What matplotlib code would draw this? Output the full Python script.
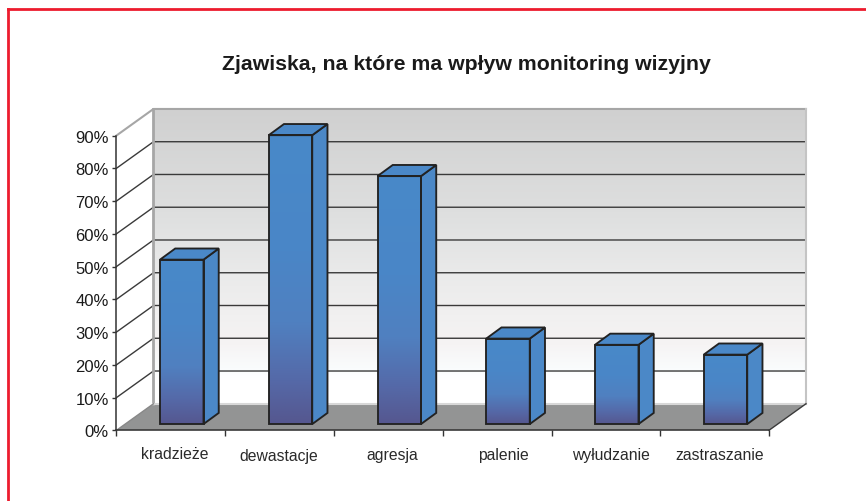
import matplotlib

matplotlib.use("Agg")
import matplotlib.pyplot as plt
import numpy as np
from matplotlib.colors import LinearSegmentedColormap
from matplotlib.patches import Polygon
from matplotlib.transforms import ScaledTranslation

plt.rcParams["font.family"] = ["Liberation Sans", "DejaVu Sans"]

# data
categories = ["kradzieże", "dewastacje", "agresja", "palenie", "wyłudzanie", "zastraszanie"]
values = [50.2, 88.2, 75.7, 26.1, 24.2, 21.2]
y_ticks = [0, 10, 20, 30, 40, 50, 60, 70, 80, 90]
title = "Zjawiska, na które ma wpływ monitoring wizyjny"

# fake 3d geometry, in axis units (one category = 1, y in percent)
DEPTH_X, DEPTH_Y = 0.34, 8.1
BAR_SHIFT_X, BAR_SHIFT_Y = 0.1, 1.9
BAR_W = 0.4
BAR_DX, BAR_DY = 0.14, 3.4
EDGE = "#222222"
label_nudge = [4, -1, 4, 6, 5, 5]
label_drop = [0, 2, 1, 1, 1, 1]

wall_cmap = LinearSegmentedColormap.from_list(
    "wall",
    [(0, "#d0d0d0"), (0.35, "#dedfdf"), (0.6, "#ececec"), (0.8, "#f6f4f4"), (0.88, "#fafcfd"), (0.92, "#ffffff"), (1, "#ffffff")],
)
bar_cmap = LinearSegmentedColormap.from_list(
    "bar", [(0, "#4889c9"), (0.4, "#4a86c7"), (0.65, "#5080c0"), (0.85, "#5569a8"), (1, "#55578f")]
)
ramp = np.linspace(0, 1, 256).reshape(-1, 1)

fig = plt.figure(figsize=(8.66, 5.02), dpi=100)
ax = fig.add_axes([116.5 / 866, 1 - 431.3 / 502, 652.5 / 866, 294.8 / 502])
ax.patch.set_visible(False)

# back wall and floor
ax.imshow(ramp, cmap=wall_cmap, aspect="auto", zorder=0, clip_on=False,
          extent=(DEPTH_X, 6 + DEPTH_X, DEPTH_Y, 90 + DEPTH_Y))
ax.add_patch(Polygon([(0, 0), (6, 0), (6 + DEPTH_X, DEPTH_Y), (DEPTH_X, DEPTH_Y)],
                     fc="#939494", ec="none", zorder=1, clip_on=False))

# grid lines, side wall then back wall
for t in y_ticks[1:-1]:
    ax.plot([0, DEPTH_X, 6 + DEPTH_X], [t, t + DEPTH_Y, t + DEPTH_Y], color="#3a3a3a", lw=1.0,
            zorder=1.5, clip_on=False, solid_joinstyle="miter")
ax.plot([0, DEPTH_X, 6 + DEPTH_X], [90, 90 + DEPTH_Y, 90 + DEPTH_Y], color="#a6a6a6", lw=1.5,
        zorder=1.6, clip_on=False)
ax.plot([DEPTH_X, DEPTH_X], [DEPTH_Y, 90 + DEPTH_Y], color="#a6a6a6", lw=2.0, zorder=1.6, clip_on=False)
ax.plot([DEPTH_X, 6 + DEPTH_X], [DEPTH_Y, DEPTH_Y], color="#d8d8d8", lw=1.5, zorder=1.6, clip_on=False)
ax.plot([6 + DEPTH_X, 6 + DEPTH_X], [DEPTH_Y, 90 + DEPTH_Y], color="#c4c4c4", lw=1.5, zorder=1.6, clip_on=False)
ax.plot([0, DEPTH_X], [0, DEPTH_Y], color="#888888", lw=1.0, zorder=1.6, clip_on=False)
ax.plot([6, 6 + DEPTH_X], [0, DEPTH_Y], color="#3a3a3a", lw=1.0, zorder=1.6, clip_on=False)

# bars
for i, v in enumerate(values):
    x0 = i + 0.5 - BAR_W / 2 + BAR_SHIFT_X
    x1 = x0 + BAR_W
    y0 = BAR_SHIFT_Y
    y1 = v + BAR_SHIFT_Y
    ax.imshow(ramp, cmap=bar_cmap, aspect="auto", zorder=3, clip_on=False, extent=(x0, x1, y0, y1))
    ax.add_patch(Polygon([(x0, y0), (x1, y0), (x1, y1), (x0, y1)], fc="none", ec=EDGE, lw=1.35,
                         zorder=3.2, clip_on=False))
    ax.add_patch(Polygon([(x1, y0), (x1 + BAR_DX, y0 + BAR_DY), (x1 + BAR_DX, y1 + BAR_DY), (x1, y1)],
                         fc="#4b88c7", ec=EDGE, lw=1.35, zorder=3.1, clip_on=False))
    ax.add_patch(Polygon([(x0, y1), (x1, y1), (x1 + BAR_DX, y1 + BAR_DY), (x0 + BAR_DX, y1 + BAR_DY)],
                         fc="#4a88c8", ec=EDGE, lw=1.35, zorder=3.1, clip_on=False))

ax.set_xlim(0, 6)
ax.set_ylim(0, 90)
for side in ("top", "right"):
    ax.spines[side].set_visible(False)
for side in ("left", "bottom"):
    ax.spines[side].set_color("#333333")
    ax.spines[side].set_linewidth(1.1)

ax.set_yticks(y_ticks, [f"{t}%" for t in y_ticks])
ax.tick_params(axis="y", length=3, width=1.0, color="#333333", labelsize=12, labelcolor="#1a1a1a", pad=2.5)
ax.set_xticks(range(7), [""] * 7)
ax.tick_params(axis="x", which="major", length=4, width=1.0, color="#333333")
ax.set_xticks(np.arange(6) + 0.5, categories, minor=True)
ax.tick_params(axis="x", which="minor", length=0, labelsize=11.3, labelcolor="#2a2a2a", pad=11)
for lab, dx, dy in zip(ax.get_xticklabels(minor=True), label_nudge, label_drop):
    lab.set_transform(lab.get_transform() + ScaledTranslation(dx / 100, -dy / 100, fig.dpi_scale_trans))

fig.text(466.5 / 866, 1 - 64.5 / 502, title, ha="center", va="center", fontsize=15.35, fontweight="bold",
         color="#1a1a1a")

# red frame of the page, top and left only
fig.add_artist(plt.Line2D([8 / 866, 8 / 866], [0, 1 - 10 / 502], color="#ed1c2e", lw=2.0,
                          solid_capstyle="projecting"))
fig.add_artist(plt.Line2D([8 / 866, 1], [1 - 10 / 502, 1 - 10 / 502], color="#ed1c2e", lw=2.0,
                          solid_capstyle="projecting"))

fig.savefig("out.png", dpi=100)
